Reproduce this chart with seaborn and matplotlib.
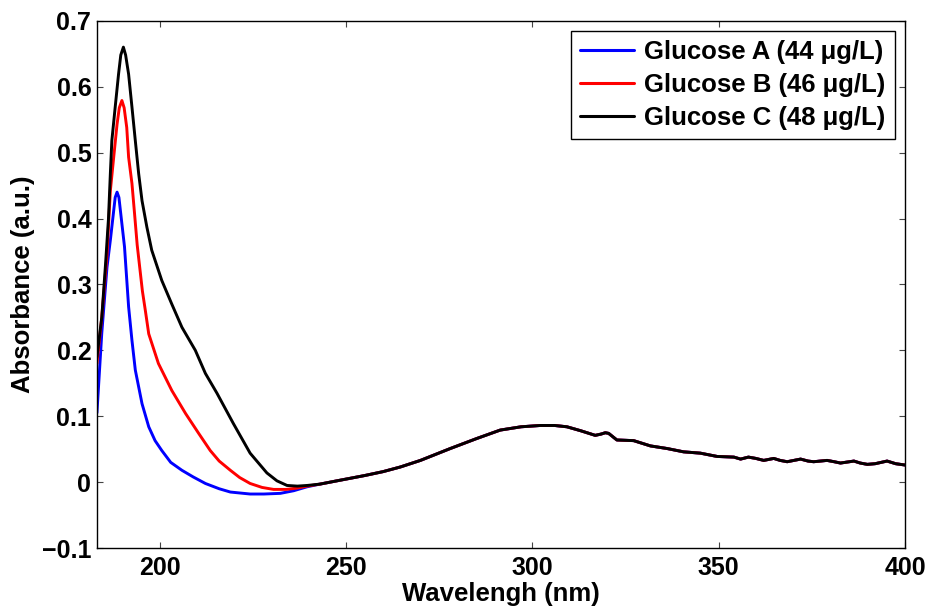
import numpy as np
import pandas as pd
import matplotlib
matplotlib.use("Agg")
import matplotlib.pyplot as plt
import seaborn as sns

# ---------------- data ----------------
series_names = ["Glucose A (44 \u03bcg/L)", "Glucose B (46 \u03bcg/L)", "Glucose C (48 \u03bcg/L)"]
series_colors = ["#0000ff", "#ff0000", "#000000"]

wl_a = [183.2, 184.5, 185.9, 186.8, 187.7, 188.1, 188.6, 189.1, 189.7, 190.6, 191.7,
        192.6, 193.5, 195.3, 197.1, 198.8, 200.6, 203.0, 206.0, 209.0, 212.3, 216.0,
        219.0, 224.3, 228.0, 232.4, 236.0, 239.6]
abs_a = [0.105, 0.226, 0.326, 0.367, 0.412, 0.432, 0.440, 0.432, 0.402, 0.357, 0.266,
         0.215, 0.170, 0.119, 0.084, 0.063, 0.048, 0.030, 0.018, 0.008, -0.002, -0.010,
         -0.015, -0.018, -0.018, -0.017, -0.013, -0.007]

wl_b = [183.2, 184.5, 185.9, 186.8, 187.7, 188.6, 189.2, 189.9, 190.5, 191.2, 191.7,
        192.6, 193.3, 194.0, 194.6, 195.4, 196.2, 197.1, 199.7, 203.3, 207.0, 210.5,
        213.6, 216.0, 219.0, 221.5, 224.3, 227.5, 230.6, 234.0, 236.9, 239.6]
abs_b = [0.180, 0.250, 0.345, 0.442, 0.493, 0.543, 0.568, 0.579, 0.568, 0.538, 0.493,
         0.453, 0.407, 0.360, 0.330, 0.290, 0.260, 0.225, 0.180, 0.139, 0.104, 0.074,
         0.048, 0.032, 0.018, 0.007, -0.002, -0.008, -0.011, -0.011, -0.009, -0.006]

wl_c = [183.2, 184.5, 185.5, 186.3, 186.8, 187.2, 188.1, 189.0, 189.6, 190.3, 190.9,
        191.7, 192.6, 193.5, 194.4, 195.3, 196.6, 197.9, 200.6, 203.3, 206.0, 209.6,
        212.3, 215.4, 219.8, 224.3, 228.8, 231.5, 234.2, 237.0, 239.6]
abs_c = [0.190, 0.250, 0.330, 0.400, 0.468, 0.518, 0.569, 0.619, 0.648, 0.660, 0.648,
         0.619, 0.569, 0.518, 0.468, 0.427, 0.387, 0.352, 0.306, 0.270, 0.235, 0.200,
         0.165, 0.135, 0.089, 0.044, 0.014, 0.002, -0.005, -0.006, -0.005]

# common long-wavelength part shared by all three spectra
wl_tail = [243.0, 248.5, 255.0, 260.0, 264.6, 270.0, 278.0, 285.0, 291.4, 297.0, 302.2,
           306.0, 309.3, 313.0, 316.9, 318.5, 319.6, 320.5, 322.7, 327.2, 331.7, 336.2,
           340.6, 345.1, 349.6, 354.1, 355.9, 358.0, 360.0, 362.1, 364.8, 366.5, 368.4,
           372.0, 374.0, 375.5, 379.1, 381.0, 382.7, 386.3, 388.0, 389.9, 392.0, 395.2,
           397.5, 400.0]
abs_tail = [-0.003, 0.003, 0.010, 0.016, 0.023, 0.033, 0.051, 0.066, 0.079, 0.084, 0.086,
            0.086, 0.084, 0.078, 0.071, 0.073, 0.075, 0.074, 0.064, 0.063, 0.055, 0.051,
            0.046, 0.044, 0.039, 0.038, 0.035, 0.038, 0.036, 0.033, 0.036, 0.033, 0.031,
            0.035, 0.032, 0.031, 0.033, 0.031, 0.029, 0.032, 0.029, 0.027, 0.028, 0.032,
            0.028, 0.026]

x_ticks = [200, 250, 300, 350, 400]
y_ticks = [-0.1, 0, 0.1, 0.2, 0.3, 0.4, 0.5, 0.6, 0.7]
y_tick_labels = ["\u22120.1", "0", "0.1", "0.2", "0.3", "0.4", "0.5", "0.6", "0.7"]

# ---------------- build table ----------------
frames = []
for name, wl, ab in zip(series_names, [wl_a, wl_b, wl_c], [abs_a, abs_b, abs_c]):
    frames.append(pd.DataFrame({"Wavelength": wl + wl_tail,
                                "Absorbance": ab + abs_tail,
                                "Sample": name}))
df = pd.concat(frames, ignore_index=True)

# ---------------- style ----------------
sns.set_style("ticks")
plt.rcParams["font.family"] = ["Liberation Sans", "DejaVu Sans"]
plt.rcParams["font.weight"] = "bold"
plt.rcParams["text.color"] = "black"
plt.rcParams["axes.labelcolor"] = "black"
plt.rcParams["xtick.color"] = "black"
plt.rcParams["ytick.color"] = "black"
plt.rcParams["axes.linewidth"] = 1.0

fig = plt.figure(figsize=(9.32, 6.11), dpi=100)
ax = fig.add_axes([0.104, 0.103, 0.867, 0.863])

sns.lineplot(data=df, x="Wavelength", y="Absorbance", hue="Sample",
             palette=dict(zip(series_names, series_colors)), sort=False,
             estimator=None, linewidth=2.1, ax=ax)

ax.set_xlim(183.2, 400)
ax.set_ylim(-0.1, 0.7)
ax.set_xticks(x_ticks)
ax.set_xticklabels([str(t) for t in x_ticks])
ax.set_yticks(y_ticks)
ax.set_yticklabels(y_tick_labels)

fs_tick = 18
fs_lab = 18.5
ax.tick_params(direction="in", top=True, right=True, length=4.5, width=0.8,
               color="#444444", labelcolor="black", labelsize=fs_tick)
ax.tick_params(axis="x", pad=6)
ax.tick_params(axis="y", pad=4)
for lab in ax.get_xticklabels() + ax.get_yticklabels():
    lab.set_fontweight("bold")
for sp in ax.spines.values():
    sp.set_color("black")
    sp.set_linewidth(1.0)

ax.set_xlabel("Wavelengh (nm)", fontsize=fs_lab, fontweight="bold", labelpad=1)
ax.set_ylabel("Absorbance (a.u.)", fontsize=fs_lab, fontweight="bold", labelpad=5)

leg = ax.legend(loc="upper right", frameon=True, fancybox=False,
                edgecolor="black", framealpha=1, borderaxespad=0.4,
                handlelength=2.1, handletextpad=0.4, labelspacing=0.35,
                borderpad=0.35, prop={"weight": "bold", "size": fs_lab})
leg.get_frame().set_linewidth(1.0)
for line in leg.get_lines():
    line.set_linewidth(2.2)

fig.savefig("out.png", dpi=100)
